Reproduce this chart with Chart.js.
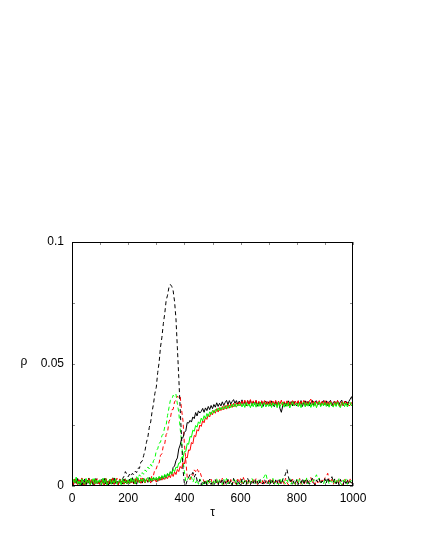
<!DOCTYPE html>
<html>
<head>
<meta charset="utf-8">
<script src="https://cdn.jsdelivr.net/npm/chart.js@4/dist/chart.umd.min.js"></script>
<style>
html,body{margin:0;padding:0;background:#fff;}
canvas{display:block;}
</style>
</head>
<body>
<canvas id="c" width="425" height="550" style="width:425px;height:550px"></canvas>
<script>
// tau axis (step 5)
const tau = Array.from({length: 201}, (_, i) => i * 5);
const xTickLabels = [0, 200, 400, 600, 800, 1000];
const xMinorTicks = [0, 100, 200, 300, 400, 500, 600, 700, 800, 900, 1000];
const yTickLabels = ['0', '0.05', '0.1'];
const yTickValues = [0, 0.05, 0.1];
const yMinorTicks = [0, 0.025, 0.05, 0.075, 0.1];
const UNIT = 1e-3; // values below are in units of 1e-3

// solid black
const solidBlack = [
1.8,0.4,2.6,1.1,3.0,0.7,2.2,0.3,1.9,2.8,0.6,1.5,3.2,0.9,2.4,0.5,1.7,2.9,1.0,2.1,
0.6,2.5,1.3,3.1,0.8,1.9,0.4,2.7,1.4,0.9,3.3,1.2,2.0,0.5,2.6,1.6,0.8,2.9,1.3,2.2,
0.9,2.8,1.5,3.4,1.1,2.3,0.7,3.0,1.8,2.5,1.2,3.2,2.0,2.7,1.5,3.5,2.2,1.8,3.3,2.5,
3.0,1.9,3.6,2.4,4.1,2.8,4.5,3.2,5.0,4.0,5.8,5.1,7.6,8.2,10.4,11.5,15.2,16.8,19.5,19.8,
22.0,22.6,26.0,25.8,26.9,26.2,28.3,27.6,30.1,28.7,30.8,29.9,30.6,31.8,30.2,32.0,30.9,32.6,31.3,33.0,
31.7,33.4,32.3,34.1,32.6,33.9,32.8,34.5,33.0,34.2,35.1,33.3,35.0,33.6,34.6,35.4,33.9,35.0,33.4,34.8,
33.6,35.3,33.1,34.7,32.8,35.0,33.5,35.2,32.9,34.6,33.4,35.0,32.7,34.5,33.0,34.9,32.6,34.3,34.8,33.2,
34.5,32.8,34.9,33.3,32.5,34.6,33.0,34.8,31.8,30.2,32.9,34.4,32.7,34.1,34.9,33.0,34.6,32.8,34.7,33.3,
32.9,34.8,33.2,35.0,32.6,34.3,34.9,33.1,34.7,32.8,34.2,35.1,33.0,34.6,34.9,33.2,34.7,32.9,34.4,35.0,
33.3,34.9,32.9,34.5,35.1,32.8,34.4,34.7,33.0,35.0,33.2,34.5,35.2,32.9,34.3,34.8,33.1,34.6,35.6,36.6,
34.5];

// solid green
const solidGreen = [
0.5,2.7,1.3,3.4,0.8,2.0,0.4,2.9,1.6,0.7,3.1,1.2,2.4,0.3,1.8,3.0,0.9,2.5,1.1,2.2,
1.4,0.6,3.2,1.0,2.6,0.4,1.9,2.8,0.7,2.3,1.2,3.0,0.8,1.7,2.5,0.5,2.9,1.3,2.1,0.9,
2.4,1.0,3.1,1.6,2.7,0.8,2.2,3.4,1.3,2.8,1.9,3.2,1.4,2.6,3.5,1.8,3.3,2.1,3.7,2.4,
3.6,2.3,4.0,2.7,4.3,3.1,4.8,3.5,5.2,4.1,5.9,4.8,6.8,5.9,7.8,7.4,9.4,9.5,11.8,11.6,
14.1,14.2,17.4,17.1,20.3,20.0,22.9,22.4,24.8,24.1,26.3,25.6,27.8,26.7,28.8,27.6,29.7,28.5,30.4,29.3,
31.0,29.9,31.4,30.6,32.0,30.9,32.2,31.3,32.6,31.6,33.0,31.8,33.2,32.1,33.5,32.4,33.7,32.3,33.6,32.8,
33.9,32.4,33.8,32.2,34.2,32.7,33.6,32.1,34.0,32.5,34.3,32.3,33.9,32.6,34.4,32.0,33.8,34.1,32.4,33.7,
32.6,33.9,32.2,34.1,32.9,33.7,32.1,34.3,32.5,33.6,34.4,32.3,33.9,32.6,34.2,32.0,33.5,34.5,32.8,33.4,
34.0,32.5,34.2,32.1,33.8,34.4,32.4,34.1,32.7,34.3,32.2,33.9,32.6,34.4,32.1,33.7,34.5,32.5,34.0,32.8,
34.2,32.6,33.9,32.3,34.3,32.9,32.4,34.1,32.6,34.4,32.8,32.1,33.9,34.2,32.5,34.0,32.4,33.7,34.3,32.8,
33.6];

// solid red
const solidRed = [
2.3,0.6,2.9,1.4,0.5,2.6,1.0,3.3,1.7,0.4,2.4,1.2,3.0,0.8,2.7,1.5,0.5,2.8,1.1,2.0,
0.7,2.5,1.3,0.4,3.0,1.8,0.9,2.6,1.4,3.2,0.6,2.1,1.6,0.5,2.9,1.2,2.3,0.8,2.7,1.0,
2.2,0.8,2.9,1.5,2.5,0.9,3.1,1.7,2.4,1.1,3.3,2.0,1.4,3.0,1.9,2.6,1.2,3.2,2.1,2.8,
1.6,3.1,2.2,3.5,2.4,3.6,2.7,4.0,3.0,4.6,3.4,5.2,3.9,5.8,4.7,6.8,5.9,8.0,7.2,9.6,
9.0,11.8,11.5,14.8,14.6,17.8,17.3,20.7,20.2,23.1,22.5,25.0,24.4,26.8,25.9,28.2,27.3,29.3,28.3,30.3,
29.2,31.0,29.8,31.7,30.3,32.1,30.9,32.6,31.2,33.0,31.5,33.4,31.9,33.6,32.2,33.9,32.5,34.1,32.8,34.4,
33.0,34.8,33.4,35.2,33.1,35.0,33.6,35.4,33.2,34.9,33.7,35.1,33.3,34.7,33.0,34.9,33.5,35.0,33.2,34.6,
33.4,35.0,33.1,34.8,33.6,35.1,32.9,34.7,33.5,35.2,33.0,34.6,33.4,34.9,32.8,34.5,33.3,35.0,33.1,34.8,
33.5,35.0,33.0,34.7,33.4,35.1,32.9,34.6,33.3,34.9,35.6,33.2,34.8,33.0,34.6,33.5,35.0,32.9,34.7,33.3,
35.0,33.2,34.6,32.9,34.8,33.4,32.8,34.7,33.1,35.0,33.3,32.6,34.5,33.0,34.8,33.2,34.4,32.9,33.1,34.2,
33.4];

// dashed black
const dashedBlack = [
1.5,0.3,2.4,0.9,3.0,1.2,0.5,2.7,1.0,2.0,0.4,2.9,1.3,0.6,2.2,1.7,0.4,3.1,1.1,1.9,
0.6,2.6,1.4,0.5,2.8,1.0,2.1,0.3,2.5,1.2,3.2,0.7,1.8,0.9,2.7,1.5,3.0,4.0,5.9,4.8,
3.8,4.9,4.1,5.2,4.6,6.0,5.5,7.4,7.2,9.8,10.2,12.5,14.6,17.9,20.1,24.0,26.2,30.5,33.6,38.0,
40.5,46.5,50.6,57.0,61.0,66.5,70.6,76.0,78.2,81.4,82.6,81.8,80.0,75.6,68.5,56.6,44.5,31.6,19.5,6.8,
1.0,0.4,2.3,3.5,4.8,4.4,5.6,3.6,4.9,2.4,1.2,2.6,0.5,1.9,0.8,2.5,0.4,1.7,2.8,0.6,
2.0,0.5,2.6,1.1,0.3,2.4,1.3,3.0,0.6,1.8,0.4,2.7,1.0,2.2,0.5,3.1,1.4,0.7,2.5,1.2,
0.4,2.8,1.0,2.1,0.6,3.2,1.5,0.5,2.4,1.1,2.9,0.7,1.9,0.4,2.6,1.3,0.8,2.7,1.2,0.5,
2.3,0.8,2.9,1.4,0.5,2.5,1.0,3.0,1.7,0.6,2.6,3.4,5.0,6.8,3.9,1.5,2.6,0.7,2.2,1.1,
2.7,0.6,2.0,1.3,3.1,0.5,2.4,1.0,2.8,0.7,1.9,3.2,1.2,0.4,2.5,1.6,2.9,0.8,2.1,1.4,
3.0,1.1,3.5,1.9,2.6,3.8,1.5,2.9,0.9,2.3,0.5,2.7,1.3,0.6,2.4,1.0,2.8,0.7,1.8,1.2,
0.9];

// dashed green
const dashedGreen = [
0.6,2.9,1.4,3.6,1.0,2.3,0.5,3.1,1.7,0.8,2.6,1.2,3.3,0.7,2.0,1.5,3.0,0.9,2.4,1.3,
2.8,0.5,2.2,1.0,3.2,1.6,0.6,2.7,1.3,3.4,0.8,2.1,1.5,0.4,2.9,1.1,2.5,0.7,3.0,1.4,
2.6,1.0,3.1,1.7,2.9,2.2,3.8,3.1,4.6,3.9,5.5,4.8,6.6,5.9,7.8,7.0,8.9,8.1,10.4,11.2,
14.6,15.2,17.6,17.9,20.6,21.3,24.2,24.9,28.9,32.0,35.1,35.4,37.2,36.6,37.6,33.6,30.2,23.5,18.0,10.6,
6.0,1.8,2.4,3.5,2.7,3.8,1.5,3.0,1.2,2.6,0.7,2.9,1.4,0.5,2.3,1.0,2.7,0.6,2.1,1.5,
0.4,2.6,1.1,3.0,0.7,2.4,1.6,0.5,2.8,1.2,3.1,0.8,2.2,1.4,0.5,2.9,1.0,2.5,0.6,2.0,
1.3,3.0,0.8,2.4,1.5,0.5,2.7,1.1,3.2,1.8,0.7,2.5,1.2,3.0,1.6,2.2,3.1,4.0,5.2,2.4,
0.9,2.6,1.3,3.1,0.6,2.2,1.5,0.5,2.8,1.0,3.2,1.7,0.8,2.5,1.2,3.0,0.7,2.4,1.6,0.5,
2.7,1.1,3.0,1.5,0.6,2.5,1.2,3.3,0.8,2.4,1.6,3.0,1.9,3.4,4.6,2.6,3.3,1.2,2.0,0.7,
2.6,1.3,3.1,0.8,2.2,1.5,2.8,0.6,2.3,1.1,3.0,1.4,0.5,2.5,1.0,2.9,0.7,2.2,1.4,2.7,
1.2];

// dashed red
const dashedRed = [
2.2,0.5,2.8,1.2,3.3,0.8,2.5,1.6,0.4,2.9,1.1,2.4,0.6,3.1,1.5,0.7,2.6,1.3,3.0,0.9,
1.9,0.4,2.7,1.3,3.1,0.6,2.4,1.0,2.9,0.5,2.2,1.6,3.2,0.8,2.5,1.2,0.4,2.8,1.5,2.3,
0.7,2.9,1.3,2.4,0.8,3.0,1.6,2.5,1.0,3.3,1.4,2.7,1.2,2.6,1.7,3.1,2.4,4.6,4.4,6.9,
7.0,9.1,9.4,12.6,13.2,16.5,17.2,21.1,22.0,26.4,27.6,31.2,31.4,34.6,35.0,36.9,36.2,36.8,31.2,26.7,
17.2,10.6,3.5,3.2,2.5,4.9,4.3,6.6,5.9,7.2,5.8,6.2,4.0,3.6,1.6,2.6,0.7,2.3,1.2,2.8,
0.5,2.4,1.3,3.0,0.8,2.6,1.1,3.2,0.6,2.0,1.5,3.1,0.9,2.7,0.4,2.3,1.4,0.6,2.8,1.2,
3.0,0.9,3.5,1.6,2.4,0.5,2.9,1.3,0.7,2.6,1.2,3.1,0.6,2.2,1.7,0.4,2.8,1.0,2.5,1.4,
0.6,2.7,1.2,3.0,0.8,2.3,1.5,0.4,2.9,1.1,2.5,0.7,3.2,1.4,0.5,2.6,1.0,2.8,1.6,0.6,
2.4,1.0,3.1,0.7,2.6,1.4,0.5,2.9,1.2,2.2,3.5,1.1,2.7,0.6,2.4,1.3,3.0,0.8,2.5,1.5,
3.4,3.8,5.2,2.6,1.3,2.8,0.7,2.4,1.1,3.0,0.6,2.5,1.6,0.4,2.7,1.0,2.3,0.8,2.9,1.4,
0.7];

const toPts = arr => arr.map((v, i) => ({x: tau[i], y: v * UNIT}));

const FONT = 'Liberation Sans, Arial, Helvetica, sans-serif';

function mk(label, arr, color, dashed) {
  return {
    label, data: toPts(arr), borderColor: color, backgroundColor: color,
    borderWidth: 1, pointRadius: 0, tension: 0, fill: false,
    borderDash: dashed ? [4, 3] : []
  };
}

const framePlugin = {
  id: 'frame',
  afterDatasetsDraw(chart) {
    const {ctx, chartArea: a, scales: {x, y}} = chart;
    ctx.save();
    ctx.strokeStyle = '#888';
    ctx.lineWidth = 1;
    ctx.beginPath();
    xMinorTicks.forEach(v => {
      const px = Math.round(x.getPixelForValue(v)) + 0.5;
      ctx.moveTo(px, a.bottom); ctx.lineTo(px, a.bottom - 3);
      ctx.moveTo(px, a.top); ctx.lineTo(px, a.top + 3);
    });
    yMinorTicks.forEach(v => {
      const py = Math.round(y.getPixelForValue(v)) + 0.5;
      ctx.moveTo(a.left, py); ctx.lineTo(a.left + 3, py);
      ctx.moveTo(a.right, py); ctx.lineTo(a.right - 3, py);
    });
    ctx.stroke();
    ctx.strokeStyle = '#000';
    ctx.strokeRect(a.left + 0.5, a.top + 0.5, a.right - a.left - 1, a.bottom - a.top - 1);
    ctx.restore();
  },
  afterDraw(chart) {
    const {ctx, chartArea: a} = chart;
    ctx.save();
    ctx.fillStyle = '#000';
    ctx.font = '12px ' + FONT;
    ctx.textAlign = 'center';
    ctx.textBaseline = 'middle';
    ctx.fillText('ρ', a.left - 48, (a.top + a.bottom) / 2 - 2);
    ctx.fillText('τ', (a.left + a.right) / 2, a.bottom + 27);
    ctx.restore();
  }
};

new Chart(document.getElementById('c'), {
  type: 'line',
  data: {
    datasets: [
      mk('solid green', solidGreen, '#00ff00', false),
      mk('solid red', solidRed, '#ff0000', false),
      mk('solid black', solidBlack, '#000000', false),
      mk('dashed black', dashedBlack, '#000000', true),
      mk('dashed green', dashedGreen, '#00ff00', true),
      mk('dashed red', dashedRed, '#ff0000', true)
    ]
  },
  options: {
    responsive: false,
    devicePixelRatio: 1,
    animation: false,
    layout: {padding: {top: 242, right: 72, left: 0, bottom: 0}},
    plugins: {legend: {display: false}, tooltip: {enabled: false}},
    scales: {
      x: {
        type: 'linear', min: 0, max: 1000,
        grid: {display: false, drawTicks: false},
        border: {display: false},
        afterBuildTicks: s => { s.ticks = xTickLabels.map(v => ({value: v})); },
        ticks: {padding: 5, color: '#000', font: {family: FONT, size: 12}, maxRotation: 0,
                callback: v => String(v)},
        afterFit: s => { s.height = 64; }
      },
      y: {
        type: 'linear', min: 0, max: 0.1,
        grid: {display: false, drawTicks: false},
        border: {display: false},
        afterBuildTicks: s => { s.ticks = yTickValues.map(v => ({value: v})); },
        ticks: {padding: 8, color: '#000', font: {family: FONT, size: 12},
                callback: (v) => yTickLabels[yTickValues.indexOf(v)] ?? ''},
        afterFit: s => { s.width = 72; }
      }
    }
  },
  plugins: [framePlugin]
});
</script>
</body>
</html>
